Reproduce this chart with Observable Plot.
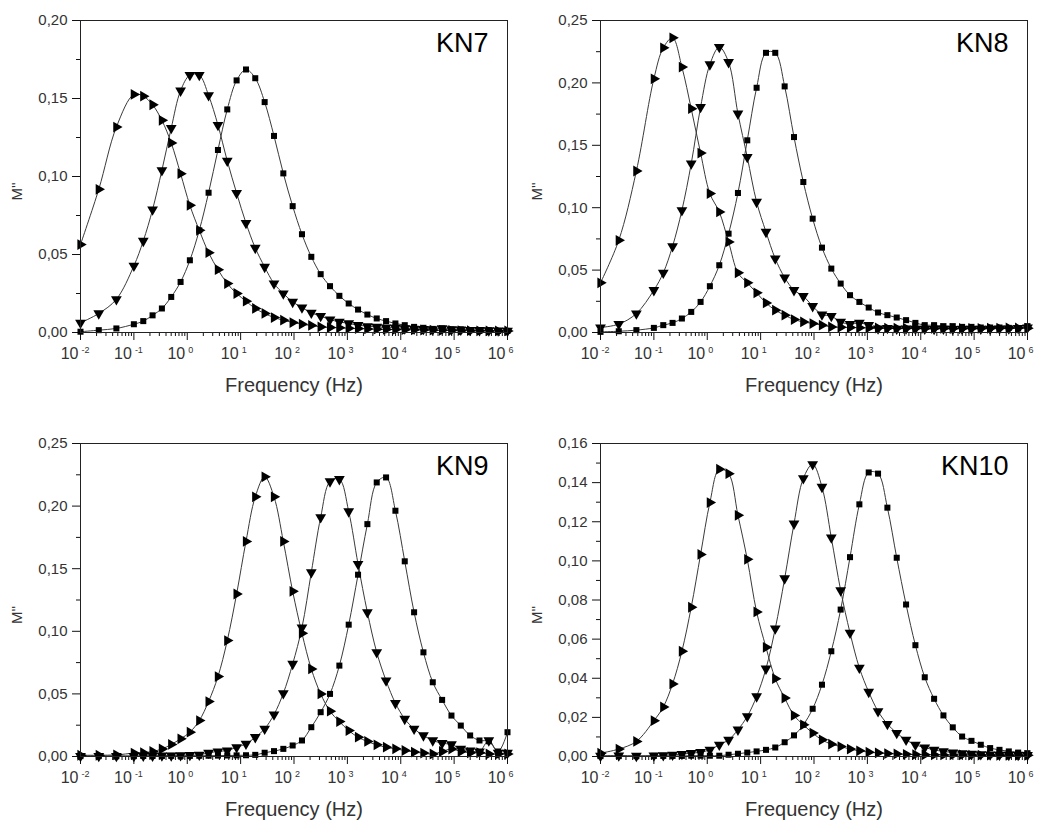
<!DOCTYPE html>
<html><head><meta charset="utf-8">
<script src="https://cdn.jsdelivr.net/npm/d3@7"></script>
<script src="https://cdn.jsdelivr.net/npm/@observablehq/plot@0.6"></script>
<style>
body{margin:0;background:#fff}
#wrap{position:relative;width:1042px;height:823px;background:#fff;overflow:hidden}
.p{position:absolute}
</style>
</head><body><div id="wrap"></div>
<script>
// Frequencies (Hz) of the measurement points
const freq = [0.01, 0.022, 0.047, 0.1, 0.15, 0.224, 0.335, 0.501, 0.75, 1.12, 1.68, 2.51, 3.76, 5.62, 8.41, 12.6, 18.8, 28.2, 42.2, 63.1, 94.4, 141, 211, 316, 473, 708, 1059, 1585, 2371, 3548, 5309, 7943, 11885, 17783, 26607, 39811, 59566, 89125, 133352, 199526, 298538, 446684, 668344, 1000000];

// KN7
const kn7Right = [0.0564, 0.0918, 0.1317, 0.1526, 0.1515, 0.146, 0.136, 0.1215, 0.1018, 0.0815, 0.0655, 0.0512, 0.0403, 0.0314, 0.025, 0.0201, 0.0154, 0.0122, 0.0096, 0.0079, 0.0064, 0.0053, 0.0045, 0.0036, 0.0032, 0.003, 0.0027, 0.0025, 0.0023, 0.0021, 0.002, 0.0019, 0.0018, 0.0017, 0.0016, 0.0015, 0.0014, 0.0013, 0.0012, 0.0012, 0.0011, 0.001, 0.001, 0.001];
const kn7Down = [0.0062, 0.0122, 0.0213, 0.0427, 0.0587, 0.0788, 0.104, 0.131, 0.155, 0.165, 0.165, 0.152, 0.133, 0.110, 0.0894, 0.0702, 0.0542, 0.042, 0.0314, 0.025, 0.0196, 0.016, 0.0126, 0.0105, 0.0083, 0.0068, 0.0058, 0.0047, 0.004, 0.0036, 0.0032, 0.003, 0.0026, 0.0024, 0.0022, 0.002, 0.0026, 0.002, 0.0018, 0.0016, 0.0015, 0.0013, 0.0012, 0.001];
const kn7Square = [0.0005, 0.0015, 0.0026, 0.0053, 0.0073, 0.011, 0.0154, 0.0228, 0.0324, 0.0463, 0.0655, 0.0896, 0.117, 0.143, 0.1616, 0.1686, 0.163, 0.1477, 0.126, 0.102, 0.081, 0.063, 0.0485, 0.0374, 0.0297, 0.0235, 0.0186, 0.0147, 0.0115, 0.009, 0.0073, 0.0058, 0.0047, 0.0036, 0.003, 0.0023, 0.0026, 0.002, 0.002, 0.0015, 0.001, 0.0015, 0.001, 0.001];

// KN8
const kn8Right = [0.0398, 0.0739, 0.1294, 0.2033, 0.2281, 0.2361, 0.2127, 0.1793, 0.1438, 0.1113, 0.0966, 0.0726, 0.0478, 0.0398, 0.0318, 0.0237, 0.0179, 0.0139, 0.0104, 0.0085, 0.0072, 0.0059, 0.0045, 0.0042, 0.004, 0.0038, 0.0037, 0.0036, 0.0035, 0.0035, 0.0034, 0.0034, 0.0033, 0.0033, 0.0033, 0.0032, 0.0032, 0.0033, 0.0033, 0.0034, 0.0035, 0.0037, 0.0036, 0.0035];
const kn8Down = [0.004, 0.0067, 0.0152, 0.0339, 0.0478, 0.0691, 0.0979, 0.1353, 0.1806, 0.2148, 0.2287, 0.2166, 0.1753, 0.1406, 0.1046, 0.0806, 0.0592, 0.044, 0.0339, 0.0291, 0.0211, 0.0144, 0.0131, 0.0085, 0.0067, 0.0077, 0.0059, 0.0032, 0.0035, 0.003, 0.0032, 0.003, 0.003, 0.0028, 0.003, 0.0028, 0.003, 0.0029, 0.003, 0.003, 0.0031, 0.0032, 0.0035, 0.004];
const kn8Square = [0.0005, 0.001, 0.0019, 0.0037, 0.0059, 0.0077, 0.0112, 0.0165, 0.0245, 0.0371, 0.0539, 0.0792, 0.1118, 0.154, 0.1961, 0.2241, 0.2241, 0.1972, 0.1566, 0.1206, 0.0912, 0.068, 0.0512, 0.0392, 0.0299, 0.0245, 0.02, 0.016, 0.0139, 0.012, 0.0099, 0.0077, 0.0059, 0.0059, 0.0051, 0.0051, 0.0045, 0.0045, 0.004, 0.004, 0.004, 0.0037, 0.0032, 0.0051];

// KN9
const kn9Right = [0.001, 0.001, 0.0013, 0.0027, 0.003, 0.004, 0.006, 0.0096, 0.0141, 0.0194, 0.0287, 0.0439, 0.0638, 0.0926, 0.1298, 0.1718, 0.2074, 0.2234, 0.2074, 0.1718, 0.1319, 0.0984, 0.0699, 0.05, 0.0362, 0.0279, 0.0207, 0.0154, 0.012, 0.0093, 0.0074, 0.0061, 0.0048, 0.0035, 0.0027, 0.002, 0.004, 0.006, 0.004, 0.003, 0.003, 0.002, 0.002, 0.002];
const kn9Down = [0.0003, 0.0003, 0.0004, 0.0004, 0.0005, 0.0006, 0.0007, 0.0008, 0.001, 0.0011, 0.0013, 0.003, 0.004, 0.0048, 0.0074, 0.0101, 0.0154, 0.0221, 0.0335, 0.0505, 0.0739, 0.103, 0.1471, 0.191, 0.2197, 0.2215, 0.1957, 0.1537, 0.1152, 0.0832, 0.0606, 0.0426, 0.03, 0.0221, 0.0168, 0.0128, 0.0106, 0.0096, 0.0061, 0.0048, 0.004, 0.0128, 0.003, 0.003];
const kn9Square = [0.0003, 0.0003, 0.0003, 0.0003, 0.0004, 0.0004, 0.0004, 0.0005, 0.0005, 0.0005, 0.0006, 0.0006, 0.0007, 0.0008, 0.0009, 0.001, 0.0013, 0.003, 0.0043, 0.0061, 0.0088, 0.0128, 0.0234, 0.0354, 0.05, 0.0726, 0.1053, 0.1452, 0.1856, 0.2189, 0.2229, 0.1963, 0.1559, 0.1152, 0.0832, 0.0593, 0.0452, 0.0327, 0.0247, 0.0168, 0.0128, 0.0122, 0.004, 0.0194];

// KN10
const kn10Right = [0.0017, 0.0038, 0.0077, 0.0183, 0.0253, 0.0371, 0.0538, 0.0763, 0.1033, 0.1298, 0.1469, 0.1446, 0.1233, 0.1008, 0.0739, 0.0558, 0.0398, 0.0299, 0.021, 0.0162, 0.012, 0.0085, 0.0063, 0.0051, 0.0038, 0.0029, 0.0022, 0.0018, 0.0015, 0.0013, 0.0011, 0.001, 0.0009, 0.0009, 0.0008, 0.0008, 0.0008, 0.0007, 0.0007, 0.0007, 0.0006, 0.0006, 0.0006, 0.0006];
const kn10Down = [0.0003, 0.0005, 0.0003, 0.0005, 0.0006, 0.0009, 0.0012, 0.0017, 0.0022, 0.0034, 0.006, 0.0085, 0.0137, 0.0205, 0.0307, 0.0449, 0.0654, 0.091, 0.119, 0.1422, 0.1494, 0.1378, 0.1119, 0.0849, 0.0632, 0.0453, 0.033, 0.0231, 0.0166, 0.012, 0.0085, 0.006, 0.0046, 0.0034, 0.0026, 0.002, 0.0016, 0.0013, 0.0011, 0.001, 0.0009, 0.0008, 0.0008, 0.0007];
const kn10Square = [0.0002, 0.0002, 0.0002, 0.0003, 0.0003, 0.0003, 0.0003, 0.0004, 0.0004, 0.0004, 0.0004, 0.0009, 0.0014, 0.002, 0.0026, 0.0034, 0.0046, 0.0073, 0.0108, 0.0162, 0.0244, 0.0367, 0.0538, 0.0751, 0.1019, 0.1289, 0.1452, 0.1446, 0.1272, 0.1016, 0.0777, 0.0569, 0.0405, 0.0295, 0.021, 0.0149, 0.0102, 0.008, 0.006, 0.0043, 0.0034, 0.0026, 0.002, 0.0017];

// Tick labels
const xTickValues = [0.01, 0.1, 1, 10, 100, 1000, 10000, 100000, 1000000];
const xTickExponents = ["-2", "-1", "0", "1", "2", "3", "4", "5", "6"];
const panelNames = ["KN7", "KN8", "KN9", "KN10"];
const yMax = [0.20, 0.25, 0.25, 0.16];
const yStep = [0.05, 0.05, 0.05, 0.02];
const xLabel = "Frequency (Hz)";
const yLabel = "M''";

const panelSeries = [
  [kn7Right, kn7Down, kn7Square],
  [kn8Right, kn8Down, kn8Square],
  [kn9Right, kn9Down, kn9Square],
  [kn10Right, kn10Down, kn10Square]
];
const seriesStyle = [
  {symbol: "triangle", rotate: 90, r: 4},
  {symbol: "triangle", rotate: 180, r: 4},
  {symbol: "square", rotate: 0, r: 3.4}
];

const minorX = [];
for (let i = 0; i < xTickValues.length - 1; i++)
  for (let k = 2; k <= 9; k++) minorX.push(xTickValues[i] * k);

const fmt = d => d3.format(".2f")(d).replace(".", ",");

function panel(p) {
  const rows = [];
  panelSeries[p].forEach((arr, s) => arr.forEach((v, i) => rows.push({f: freq[i], v, s})));
  const step = yStep[p];
  const nMaj = Math.round(yMax[p] / step);
  const major = d3.range(nMaj + 1).map(i => +(i * step).toFixed(4));
  const minor = d3.range(nMaj).map(i => +((i + 0.5) * step).toFixed(4));
  const marks = [
    Plot.axisY(minor, {tickSize: 4, tickFormat: () => "", label: null, stroke: "#111"}),
    Plot.axisY(major, {tickSize: 8, tickPadding: 5, tickFormat: fmt, label: null, fontSize: 15, fill: "#333", stroke: "#111"}),
    Plot.axisX(minorX, {tickSize: 4, tickFormat: () => "", label: null, stroke: "#111"}),
    Plot.axisX(xTickValues, {tickSize: 8, tickFormat: () => "", label: null, stroke: "#111"}),
    Plot.text(xTickValues, {x: d => d, text: () => "10", frameAnchor: "bottom", lineAnchor: "top", dy: 15, dx: -2, textAnchor: "end", fontSize: 16, fill: "#333"}),
    Plot.text(xTickValues, {x: d => d, text: (d, i) => xTickExponents[i], frameAnchor: "bottom", lineAnchor: "top", dy: 14, dx: 1, textAnchor: "start", fontSize: 9, fill: "#333"}),
    Plot.text([xLabel], {frameAnchor: "bottom", lineAnchor: "top", dy: 45, fontSize: 20, fill: "#333"}),
    Plot.text([yLabel], {frameAnchor: "left", dx: -63, dy: 24, rotate: -90, fontSize: 15, fill: "#333"}),
    Plot.text([panelNames[p]], {frameAnchor: "top-right", lineAnchor: "top", dx: -19, dy: 12, textAnchor: "end", fontSize: 27, fill: "#000"}),
    Plot.line(rows, {x: "f", y: "v", z: "s", curve: "catmull-rom", stroke: "#3a3a3a", strokeWidth: 1}),
    ...seriesStyle.map((st, s) => Plot.dot(rows.filter(d => d.s === s), {x: "f", y: "v", symbol: st.symbol, rotate: st.rotate, r: st.r, fill: "#000", stroke: "none"})),
    Plot.frame({stroke: "#222"})
  ];
  return Plot.plot({
    width: 521, height: p < 2 ? 400 : 401,
    marginLeft: 80, marginRight: 14, marginTop: 20, marginBottom: 68,
    x: {type: "log", domain: [0.01, 1e6]},
    y: {domain: [0, yMax[p]]},
    style: {fontFamily: "'Liberation Sans', Arial, sans-serif", background: "#fff", overflow: "visible"},
    marks
  });
}

const wrap = document.getElementById("wrap");
const pos = [[0, 0], [520, 0], [0, 423], [520, 423]];
pos.forEach(([l, t], p) => {
  const d = document.createElement("div");
  d.className = "p";
  d.style.left = l + "px";
  d.style.top = t + "px";
  d.appendChild(panel(p));
  wrap.appendChild(d);
});
</script></body></html>
